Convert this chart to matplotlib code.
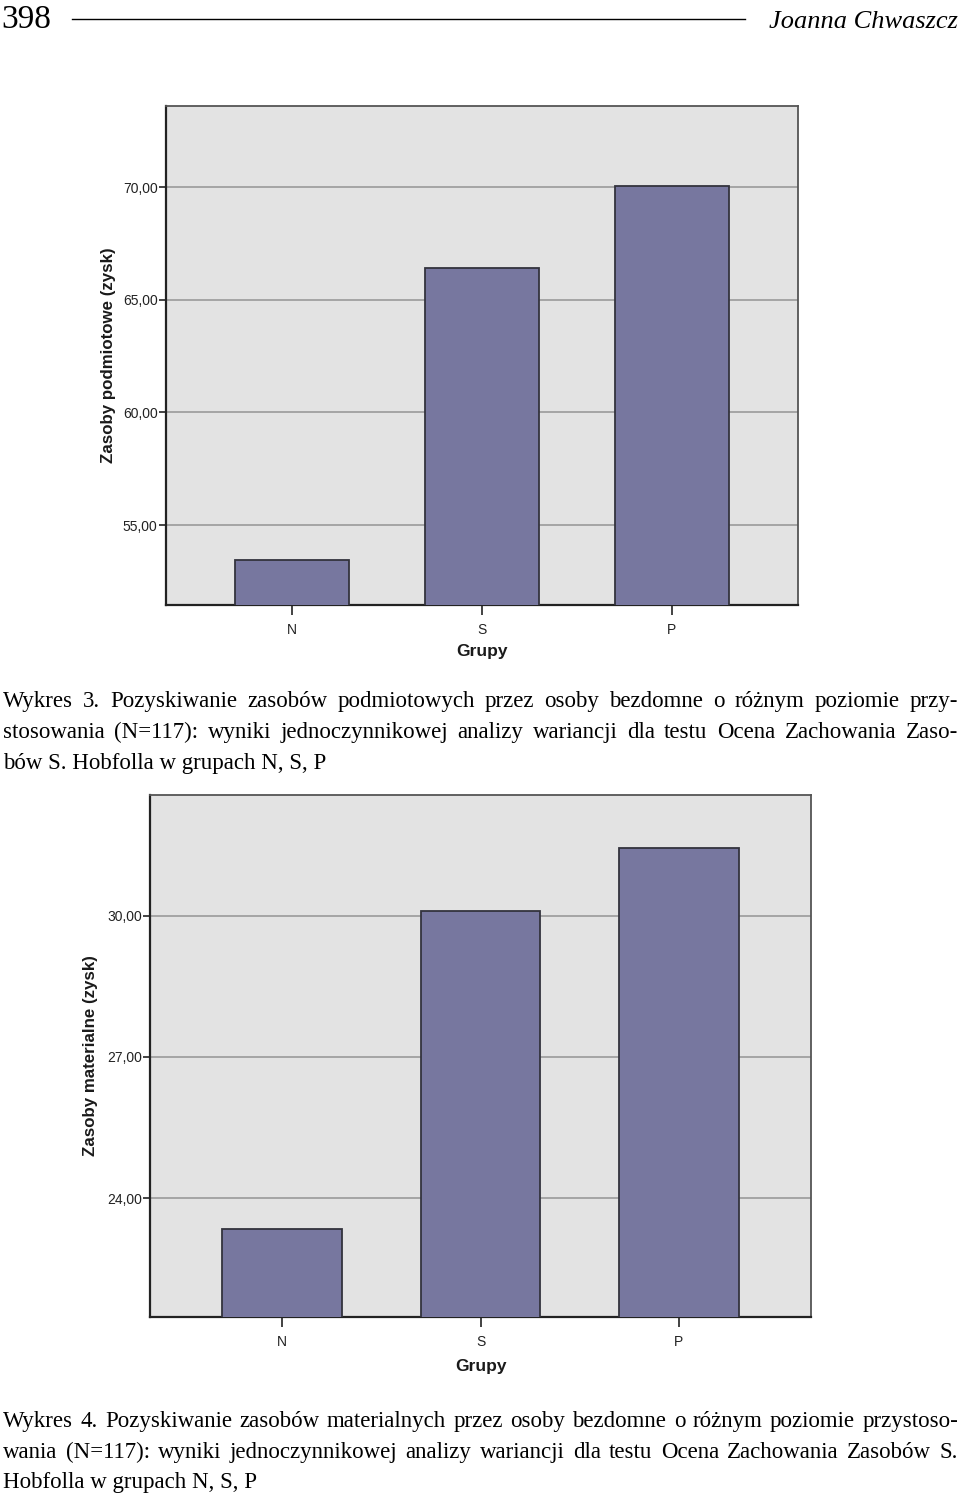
import matplotlib
matplotlib.use("Agg")
import matplotlib.pyplot as plt
from matplotlib.ticker import FuncFormatter

# ---------------- data ----------------
groups = ["N", "S", "P"]
podmiotowe = [53.45, 66.40, 70.05]
materialne = [23.35, 30.10, 31.45]
ticks_top = [55, 60, 65, 70]
ticks_bottom = [24, 27, 30]
ylabel_top = "Zasoby podmiotowe (zysk)"
ylabel_bottom = "Zasoby materialne (zysk)"
xlabel = "Grupy"

caption3 = [
    "Wykres 3. Pozyskiwanie zasobów podmiotowych przez osoby bezdomne o różnym poziomie przy-",
    "stosowania (N=117): wyniki jednoczynnikowej analizy wariancji dla testu Ocena Zachowania Zaso-",
    "bów S. Hobfolla w grupach N, S, P",
]
caption4 = [
    "Wykres 4. Pozyskiwanie zasobów materialnych przez osoby bezdomne o różnym poziomie przystoso-",
    "wania (N=117): wyniki jednoczynnikowej analizy wariancji dla testu Ocena Zachowania Zasobów S.",
    "Hobfolla w grupach N, S, P",
]

W, H = 960, 1499
fig = plt.figure(figsize=(W / 100, H / 100), dpi=100)
fig.patch.set_facecolor("white")

SANS = ["Liberation Sans", "DejaVu Sans"]
SERIF = ["Liberation Serif", "DejaVu Serif"]

BG = "#e3e3e3"
BAR = "#77779f"
EDGE = "#33333d"
GRID = "#9a9a9a"


def px_axes(l, t, r, b):
    return [l / W, 1 - b / H, (r - l) / W, (b - t) / H]


def make_chart(rect, values, ylim, ticks, ylabel, ylab_x, xlab_y):
    ax = fig.add_axes(rect)
    ax.set_facecolor(BG)
    x = range(len(groups))
    ax.set_axisbelow(True)
    ax.yaxis.grid(True, color=GRID, linewidth=1.2)
    ax.bar(x, values, width=0.6, color=BAR, edgecolor=EDGE, linewidth=1.3, zorder=3)
    ax.set_xlim(-0.665, len(groups) - 1 + 0.665)
    ax.set_ylim(*ylim)
    ax.set_yticks(ticks)
    ax.yaxis.set_major_formatter(FuncFormatter(lambda v, p: f"{v:.2f}".replace(".", ",")))
    ax.set_xticks(list(x))
    ax.set_xticklabels(groups)
    for lab in ax.get_xticklabels() + ax.get_yticklabels():
        lab.set_family(SANS)
        lab.set_fontsize(10)
        lab.set_color("#222222")
    ax.tick_params(axis="y", direction="out", length=5, width=1.2, pad=1, color="#222222")
    ax.tick_params(axis="x", direction="out", length=7, width=1.2, pad=6, color="#222222")
    for s in ["left", "bottom"]:
        ax.spines[s].set_color("#222222")
        ax.spines[s].set_linewidth(1.6)
    for s in ["top", "right"]:
        ax.spines[s].set_color("#555555")
        ax.spines[s].set_linewidth(1.3)
    ax.set_ylabel(ylabel, family=SANS, fontsize=12.2, fontweight="bold", color="#1a1a1a")
    ax.yaxis.set_label_coords(ylab_x, 0.5)
    ax.set_xlabel(xlabel, family=SANS, fontsize=12.5, fontweight="bold", color="#1a1a1a")
    ax.xaxis.set_label_coords(0.5, xlab_y)
    return ax


make_chart(px_axes(166, 106, 798, 605), podmiotowe, (51.45, 73.6), ticks_top,
           ylabel_top, -0.079, -0.078)
make_chart(px_axes(150, 795, 811, 1317), materialne, (21.47, 32.57), ticks_bottom,
           ylabel_bottom, -0.079, -0.080)

# ---------------- header ----------------
fig.text(1 / W, 1 - 28 / H, "398", family=SERIF, fontsize=24, va="baseline", ha="left")
fig.text(958 / W, 1 - 28 / H, "Joanna Chwaszcz", family=SERIF, fontsize=19,
         style="italic", va="baseline", ha="right")
fig.add_artist(plt.Line2D([72 / W, 745 / W], [1 - 19 / H, 1 - 19 / H], color="black",
                          linewidth=1.0, transform=fig.transFigure))

# ---------------- captions (justified) ----------------
renderer = fig.canvas.get_renderer()
CAP_FS = 16.5


def line_text(s, baseline, justify):
    x0, x1 = 3, 958
    if not justify:
        fig.text(x0 / W, 1 - baseline / H, s, family=SERIF, fontsize=CAP_FS,
                 va="baseline", ha="left")
        return
    words = s.split(" ")
    texts = [fig.text(0, 1 - baseline / H, w_, family=SERIF, fontsize=CAP_FS,
                      va="baseline", ha="left") for w_ in words]
    widths = [t.get_window_extent(renderer).width for t in texts]
    gap = (x1 - x0 - sum(widths)) / (len(words) - 1)
    cx = x0
    for t, w_ in zip(texts, widths):
        t.set_x(cx / W)
        cx += w_ + gap


for i, (s, b) in enumerate(zip(caption3, [707, 738, 769])):
    line_text(s, b, i < 2)
for i, (s, b) in enumerate(zip(caption4, [1427, 1458, 1488])):
    line_text(s, b, i < 2)

fig.savefig("out.png", dpi=100, facecolor="white")
